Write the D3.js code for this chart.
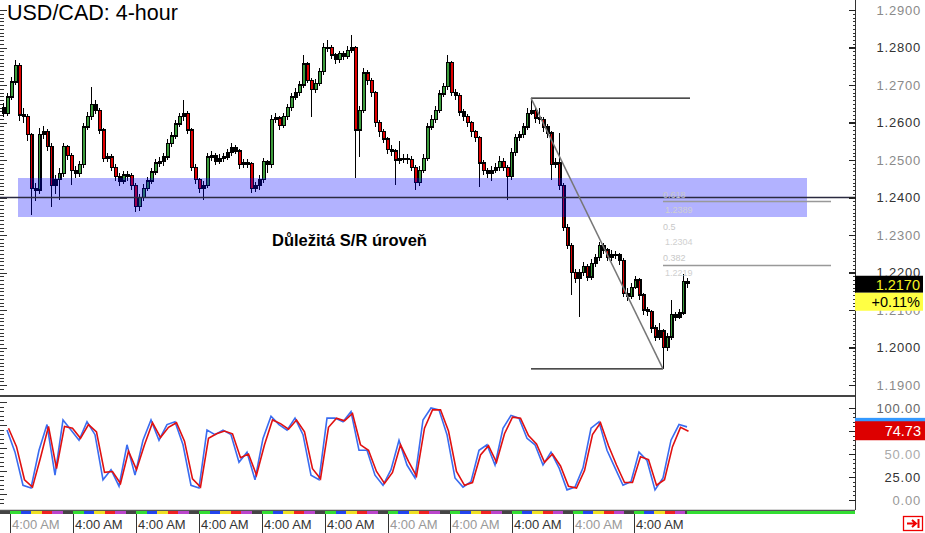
<!DOCTYPE html>
<html><head><meta charset="utf-8">
<script src="https://cdn.jsdelivr.net/npm/d3@7"></script>
<style>body{margin:0;background:#fff}svg{display:block}text{font-family:"Liberation Sans",Arial,sans-serif}</style>
</head><body><svg id="c" width="925" height="533"></svg>
<script>
const title = "USD/CAD: 4-hour";
const zoneLabel = "Důležitá S/R úroveň";
const firstOpen = 1.2640;
const closes = [
1.2625,1.2668,1.2708,1.2753,1.2620,1.2615,1.2567,1.2425,1.2420,1.2567,
1.2575,1.2537,1.2433,1.2447,1.2465,1.2535,1.2511,1.2473,1.2465,1.2487,
1.2588,1.2615,1.2647,1.2633,1.2580,1.2505,1.2508,1.2481,1.2455,1.2444,
1.2460,1.2458,1.2433,1.2375,1.2401,1.2425,1.2444,1.2468,1.2492,1.2495,
1.2508,1.2545,1.2564,1.2596,1.2615,1.2625,1.2580,1.2481,1.2447,1.2425,
1.2431,1.2508,1.2511,1.2497,1.2505,1.2508,1.2519,1.2532,1.2524,1.2487,
1.2492,1.2490,1.2425,1.2431,1.2447,1.2495,1.2487,1.2609,1.2612,1.2593,
1.2615,1.2639,1.2668,1.2681,1.2700,1.2756,1.2713,1.2687,1.2705,1.2735,
1.2799,1.2801,1.2780,1.2767,1.2783,1.2777,1.2793,1.2799,1.2580,1.2633,
1.2732,1.2713,1.2679,1.2599,1.2575,1.2556,1.2527,1.2524,1.2500,1.2505,
1.2503,1.2502,1.2481,1.2439,1.2473,1.2505,1.2588,1.2609,1.2633,1.2676,
1.2695,1.2759,1.2681,1.2673,1.2628,1.2615,1.2599,1.2575,1.2559,1.2492,
1.2473,1.2465,1.2471,1.2479,1.2497,1.2481,1.2455,1.2521,1.2559,1.2567,
1.2588,1.2625,1.2633,1.2612,1.2607,1.2588,1.2572,1.2489,1.2492,1.2433,
1.2321,1.2273,1.2201,1.2185,1.2199,1.2215,1.2188,1.2225,1.2239,1.2271,
1.2260,1.2241,1.2249,1.2247,1.2233,1.2145,1.2137,1.2161,1.2180,1.2140,
1.2100,1.2095,1.2052,1.2028,1.2044,1.2001,1.2028,1.2087,1.2081,1.2092,
1.2177,1.2170];
const highs = [
1.2652,1.2678,1.2722,1.2767,1.2760,1.2640,1.2622,1.2572,1.2440,1.2585,
1.2590,1.2582,1.2545,1.2460,1.2478,1.2545,1.2540,1.2518,1.2485,1.2498,
1.2598,1.2628,1.2695,1.2660,1.2640,1.2585,1.2520,1.2515,1.2490,1.2465,
1.2472,1.2470,1.2465,1.2440,1.2410,1.2435,1.2455,1.2478,1.2502,1.2508,
1.2520,1.2555,1.2575,1.2607,1.2626,1.2660,1.2632,1.2585,1.2490,1.2452,
1.2445,1.2518,1.2525,1.2518,1.2515,1.2520,1.2530,1.2545,1.2540,1.2530,
1.2503,1.2502,1.2495,1.2442,1.2460,1.2505,1.2500,1.2620,1.2625,1.2618,
1.2626,1.2650,1.2678,1.2692,1.2712,1.2780,1.2762,1.2720,1.2715,1.2745,
1.2812,1.2820,1.2808,1.2785,1.2792,1.2790,1.2803,1.2833,1.2805,1.2645,
1.2745,1.2740,1.2720,1.2685,1.2607,1.2582,1.2562,1.2540,1.2530,1.2550,
1.2515,1.2515,1.2510,1.2488,1.2485,1.2515,1.2598,1.2620,1.2645,1.2688,
1.2705,1.2780,1.2765,1.2690,1.2680,1.2635,1.2622,1.2605,1.2580,1.2565,
1.2500,1.2480,1.2485,1.2492,1.2510,1.2505,1.2488,1.2532,1.2570,1.2578,
1.2600,1.2640,1.2665,1.2640,1.2640,1.2615,1.2595,1.2578,1.2505,1.2572,
1.2440,1.2330,1.2280,1.2210,1.2210,1.2228,1.2222,1.2236,1.2250,1.2282,
1.2278,1.2266,1.2260,1.2258,1.2252,1.2240,1.2158,1.2172,1.2192,1.2186,
1.2145,1.2108,1.2100,1.2060,1.2065,1.2050,1.2040,1.2127,1.2095,1.2102,
1.2195,1.2185];
const lows = [
1.2615,1.2618,1.2660,1.2700,1.2605,1.2598,1.2552,1.2353,1.2390,1.2410,
1.2555,1.2525,1.2375,1.2410,1.2393,1.2455,1.2500,1.2433,1.2452,1.2455,
1.2480,1.2580,1.2608,1.2622,1.2570,1.2495,1.2495,1.2470,1.2445,1.2432,
1.2435,1.2445,1.2420,1.2362,1.2365,1.2390,1.2418,1.2436,1.2460,1.2482,
1.2485,1.2500,1.2535,1.2555,1.2588,1.2605,1.2570,1.2470,1.2435,1.2412,
1.2393,1.2425,1.2498,1.2488,1.2490,1.2495,1.2500,1.2512,1.2515,1.2475,
1.2480,1.2478,1.2412,1.2415,1.2420,1.2440,1.2465,1.2480,1.2598,1.2580,
1.2585,1.2608,1.2630,1.2660,1.2672,1.2692,1.2705,1.2615,1.2678,1.2698,
1.2728,1.2788,1.2770,1.2755,1.2760,1.2768,1.2770,1.2785,1.2452,1.2508,
1.2625,1.2700,1.2668,1.2588,1.2562,1.2545,1.2515,1.2510,1.2433,1.2490,
1.2492,1.2490,1.2470,1.2420,1.2430,1.2465,1.2498,1.2580,1.2600,1.2625,
1.2668,1.2688,1.2670,1.2660,1.2617,1.2603,1.2588,1.2562,1.2548,1.2428,
1.2460,1.2452,1.2445,1.2465,1.2470,1.2470,1.2393,1.2448,1.2512,1.2550,
1.2560,1.2580,1.2620,1.2600,1.2595,1.2575,1.2560,1.2447,1.2478,1.2420,
1.2310,1.2262,1.2140,1.2172,1.2081,1.2190,1.2178,1.2180,1.2215,1.2232,
1.2250,1.2230,1.2232,1.2235,1.2220,1.2135,1.2125,1.2130,1.2155,1.2128,
1.2088,1.2084,1.2040,1.2018,1.2020,1.1943,1.1990,1.2020,1.2070,1.2075,
1.2088,1.2160];
// oscillator values, one every second bar (bar index 2k+1)
const stochK = [76,52,16,13,54,82,27,87,76,65,85,71,22,33,15,60,27,65,87,65,
82,85,60,16,13,76,71,76,71,41,52,22,67,91,82,76,89,71,27,22,
89,89,85,96,54,54,27,16,33,65,38,24,87,100,98,71,24,14,20,54,
60,38,78,92,89,67,60,38,52,35,11,14,35,78,85,54,35,16,20,52,
43,11,24,65,82,79.5];
const stochD = [78,58,22,14,46,80,34,80,78,67,82,74,30,31,18,53,33,60,84,68,
79,84,64,23,14,67,72,75,72,46,50,27,60,87,83,77,87,74,34,23,
79,89,86,94,60,54,31,18,30,60,42,26,78,98,98,75,31,16,19,49,
59,41,72,90,89,70,61,41,50,37,15,13,32,71,84,59,38,19,19,47,
44,16,22,58,79,74.73];
const priceTicks = [1.19,1.20,1.21,1.22,1.23,1.24,1.25,1.26,1.27,1.28,1.29];
const stochTicks = [0,25,50,75,100];
const stochLabels = [0,25,50,100];
const dayTickIdx = [1.75,17.5,33.25,49,64.75,80.5,96.25,111.75,127.25,142.5,157.75];
const dayTickLabels = ["4:00 AM","4:00 AM","4:00 AM","4:00 AM","4:00 AM","4:00 AM","4:00 AM","4:00 AM","4:00 AM","4:00 AM","4:00 AM"];
const srZone = [1.2348, 1.2452];
const srLevel = 1.2400;
const fibHigh = 1.2665, fibLow = 1.1943, fibHighIdx = 132, fibLowIdx = 165;
const fibLevels = [0.618, 0.5, 0.382];
const lastPrice = 1.2170;
const changeText = "+0.11%";
const sessionColors = ["#33dd33","#2244ee","#eee022","#ee2222","#bb44cc","#444444"];

const svg = d3.select("#c");
svg.append("rect").attr("width",925).attr("height",533).attr("fill","#fff");

const x = d3.scaleLinear().domain([0, closes.length-1]).range([3, 687]);
const y = d3.scaleLinear().domain([1.19, 1.29]).range([385, 10]);
const ys = d3.scaleLinear().domain([0, 100]).range([500, 408]);

// left edge ruler
const leftTicks = d3.range(10, 392, 3.75);
svg.append("g").attr("shape-rendering","crispEdges").selectAll("line").data(leftTicks).join("line")
  .attr("x1",0).attr("x2",(d,i)=> i%10===0?7:4).attr("y1",d=>Math.round(d)+0.5).attr("y2",d=>Math.round(d)+0.5)
  .attr("stroke","#333").attr("stroke-width",1);
svg.append("g").attr("shape-rendering","crispEdges").selectAll("line").data(d3.range(402,505,4.6)).join("line")
  .attr("x1",0).attr("x2",(d,i)=> i%5===0?7:4).attr("y1",d=>Math.round(d)+0.5).attr("y2",d=>Math.round(d)+0.5)
  .attr("stroke","#333");

// candles
const bars = closes.map((c,i)=>({i, o: i===0?firstOpen:closes[i-1], h: highs[i], l: lows[i], c}));
const cg = svg.append("g").attr("shape-rendering","crispEdges");
cg.selectAll("line").data(bars).join("line")
  .attr("x1",d=>Math.round(x(d.i))+0.5).attr("x2",d=>Math.round(x(d.i))+0.5)
  .attr("y1",d=>y(d.h)).attr("y2",d=>y(d.l)).attr("stroke","#000");
cg.selectAll("rect").data(bars).join("rect")
  .attr("x",d=>Math.round(x(d.i))-0.5).attr("width",2.6)
  .attr("y",d=>y(Math.max(d.o,d.c))).attr("height",d=>Math.max(1,Math.abs(y(d.o)-y(d.c))))
  .attr("fill",d=>Math.abs(y(d.o)-y(d.c))<6?"#000":(d.c>=d.o?"#3c9c3c":"#e00000")).attr("stroke","#000").attr("stroke-width",1.2);

// S/R zone
svg.append("rect").attr("x",x(3.75)).attr("width",x(201)-x(3.75))
  .attr("y",y(srZone[1])).attr("height",y(srZone[0])-y(srZone[1]))
  .attr("fill","#0000ff").attr("opacity",0.3);
svg.append("line").attr("x1",0).attr("x2",855).attr("y1",y(srLevel)).attr("y2",y(srLevel))
  .attr("stroke","#2a2a40").attr("stroke-width",1.5);

// fibonacci
const fg = svg.append("g");
fg.append("line").attr("x1",x(fibHighIdx)).attr("x2",690).attr("y1",y(fibHigh)).attr("y2",y(fibHigh)).attr("stroke","#111").attr("stroke-width",1.3);
fg.append("line").attr("x1",x(fibHighIdx)).attr("x2",x(fibLowIdx)).attr("y1",y(fibLow)).attr("y2",y(fibLow)).attr("stroke","#111").attr("stroke-width",1.3);
fg.append("line").attr("x1",x(fibHighIdx)).attr("x2",x(fibLowIdx)).attr("y1",y(fibHigh)).attr("y2",y(fibLow)).attr("stroke","#777").attr("stroke-width",1.5);
fibLevels.forEach(lv=>{
  const p = fibLow + lv*(fibHigh-fibLow);
  if (lv !== 0.5) fg.append("line").attr("x1",x(fibLowIdx)).attr("x2",831).attr("y1",y(p)).attr("y2",y(p)).attr("stroke","#999").attr("stroke-width",1.5);
  fg.append("text").attr("x",x(fibLowIdx)).attr("y",y(p)-4).attr("font-size",9).attr("fill","#c8c8c8").text(String(lv));
  fg.append("text").attr("x",x(fibLowIdx)+2).attr("y",y(p)+11).attr("font-size",9).attr("fill","#d0d0d0").text(p.toFixed(4));
});

svg.append("text").attr("x",272).attr("y",246).attr("font-size",16.5).attr("font-weight","bold").attr("fill","#000").text(zoneLabel);
svg.append("text").attr("x",7).attr("y",20).attr("font-size",21.5).attr("fill","#000").text(title);

// pane frames
svg.append("line").attr("x1",0).attr("x2",855).attr("y1",396).attr("y2",396).attr("stroke","#444").attr("stroke-width",2);
svg.append("line").attr("x1",0).attr("x2",855).attr("y1",510.5).attr("y2",510.5).attr("stroke","#555").attr("stroke-width",1.5);
svg.append("line").attr("x1",855.5).attr("x2",855.5).attr("y1",0).attr("y2",510).attr("stroke","#333").attr("stroke-width",1);

// price axis
const minorP = d3.range(1190, 1291, 1).map(v=>v/1000);
svg.append("g").attr("transform","translate(855.5,0)").attr("shape-rendering","crispEdges")
  .call(d3.axisLeft(y).tickValues(minorP).tickSize(3).tickFormat(""))
  .call(g=>g.select(".domain").remove()).call(g=>g.selectAll("line").attr("stroke","#333"));
svg.append("g").attr("transform","translate(855.5,0)").attr("shape-rendering","crispEdges")
  .call(d3.axisLeft(y).tickValues(priceTicks).tickSize(7).tickFormat(""))
  .call(g=>g.select(".domain").remove()).call(g=>g.selectAll("line").attr("stroke","#222").attr("stroke-width",1.5));
svg.append("g").selectAll("text").data(priceTicks).join("text")
  .attr("x",921).attr("y",d=>y(d)+4.5).attr("text-anchor","end").attr("font-size",13).attr("letter-spacing",0.8)
  .attr("fill",(d,i)=> i%2===0?"#8a8a8a":"#333").text(d=>d.toFixed(4));

// stoch axis
svg.append("g").attr("transform","translate(855.5,0)").attr("shape-rendering","crispEdges")
  .call(d3.axisLeft(ys).tickValues(d3.range(0,101,5)).tickSize(3).tickFormat(""))
  .call(g=>g.select(".domain").remove()).call(g=>g.selectAll("line").attr("stroke","#333"));
svg.append("g").attr("transform","translate(855.5,0)").attr("shape-rendering","crispEdges")
  .call(d3.axisLeft(ys).tickValues(stochTicks).tickSize(7).tickFormat(""))
  .call(g=>g.select(".domain").remove()).call(g=>g.selectAll("line").attr("stroke","#222").attr("stroke-width",1.5));
const stochColors = {0:"#999",25:"#333",50:"#aaa",100:"#666"};
svg.append("g").selectAll("text").data(stochLabels).join("text")
  .attr("x",921).attr("y",d=>ys(d)+4.5).attr("text-anchor","end").attr("font-size",13).attr("letter-spacing",0.8)
  .attr("fill",d=>stochColors[d]).text(d=>d.toFixed(2));

// stochastic lines
svg.append("path").datum(stochK).attr("fill","none").attr("stroke","#3a6cf0").attr("stroke-width",1.6)
  .attr("d",d3.line().x((d,k)=>x(2*k+1)).y(d=>ys(d)));
svg.append("path").datum(stochD).attr("fill","none").attr("stroke","#e01010").attr("stroke-width",1.6)
  .attr("d",d3.line().x((d,k)=>x(2*k+1)+1.5).y(d=>ys(d)));

// value boxes
const kLast = stochK[stochK.length-1], dLast = stochD[stochD.length-1];
svg.append("defs").append("clipPath").attr("id","kclip").append("rect").attr("x",855).attr("y",ys(kLast)-9).attr("width",70).attr("height",ys(dLast)-10-(ys(kLast)-9));
svg.append("rect").attr("x",855).attr("y",ys(kLast)-9).attr("width",70).attr("height",18).attr("fill","#3399ff");
svg.append("text").attr("clip-path","url(#kclip)").attr("x",921).attr("y",ys(kLast)+5).attr("text-anchor","end").attr("font-size",14).attr("fill","#fff").text(kLast.toFixed(2));
svg.append("rect").attr("x",855).attr("y",ys(dLast)-10).attr("width",70).attr("height",19).attr("fill","#dd0000");
svg.append("text").attr("x",921).attr("y",ys(dLast)+5).attr("text-anchor","end").attr("font-size",14.5).attr("fill","#fff").text(dLast.toFixed(2));

svg.append("rect").attr("x",855).attr("y",y(lastPrice)-8).attr("width",68).attr("height",17).attr("fill","#000");
svg.append("text").attr("x",920).attr("y",y(lastPrice)+6).attr("text-anchor","end").attr("font-size",14.5).attr("fill","#f4f020").text(lastPrice.toFixed(4));
svg.append("rect").attr("x",855).attr("y",y(lastPrice)+9).attr("width",68).attr("height",18).attr("fill","#ffff44");
svg.append("text").attr("x",920).attr("y",y(lastPrice)+23).attr("text-anchor","end").attr("font-size",14.5).attr("fill","#000").text(changeText);

// session strip
const segs = [];
for (let d = -1; d < dayTickIdx.length; d++) {
  const a = d < 0 ? dayTickIdx[0] - (dayTickIdx[1]-dayTickIdx[0]) : dayTickIdx[d];
  const b = d+1 < dayTickIdx.length ? dayTickIdx[d+1] : a + (dayTickIdx[d]-dayTickIdx[d-1]);
  for (let s = 0; s < 6; s++) segs.push({a: a + (b-a)*s/6, b: a + (b-a)*(s+1)/6, c: sessionColors[s]});
}
const sg = svg.append("g").attr("shape-rendering","crispEdges");
sg.append("rect").attr("x",0).attr("y",511).attr("width",855).attr("height",3).attr("fill","#33dd33");
sg.selectAll("rect.s").data(segs.filter(s=>x(s.a)<687)).join("rect").attr("class","s")
  .attr("x",d=>Math.max(0,x(d.a))).attr("width",d=>Math.min(687,x(d.b))-Math.max(0,x(d.a)))
  .attr("y",511).attr("height",3).attr("fill",d=>d.c);

// time axis
const tcol = ["#999","#333","#333","#333","#333","#333","#999","#999","#333","#999","#333"];
const tg = svg.append("g");
tg.selectAll("line").data(dayTickIdx).join("line")
  .attr("x1",d=>Math.round(x(d))+0.5).attr("x2",d=>Math.round(x(d))+0.5).attr("y1",514).attr("y2",533)
  .attr("stroke","#333").attr("shape-rendering","crispEdges");
tg.selectAll("text").data(dayTickIdx).join("text")
  .attr("x",d=>x(d)+2).attr("y",529).attr("font-size",13).attr("fill",(d,i)=>tcol[i]).text((d,i)=>dayTickLabels[i]);

// icon
svg.append("rect").attr("x",903.5).attr("y",516.5).attr("width",19).attr("height",14).attr("fill","#fff").attr("stroke","#e00").attr("stroke-width",1.3);
svg.append("path").attr("d","M907,523.5 H915 M912,520 L916,523.5 L912,527 M918.5,519 V528").attr("fill","none").attr("stroke","#e00").attr("stroke-width",2);
</script></body></html>
